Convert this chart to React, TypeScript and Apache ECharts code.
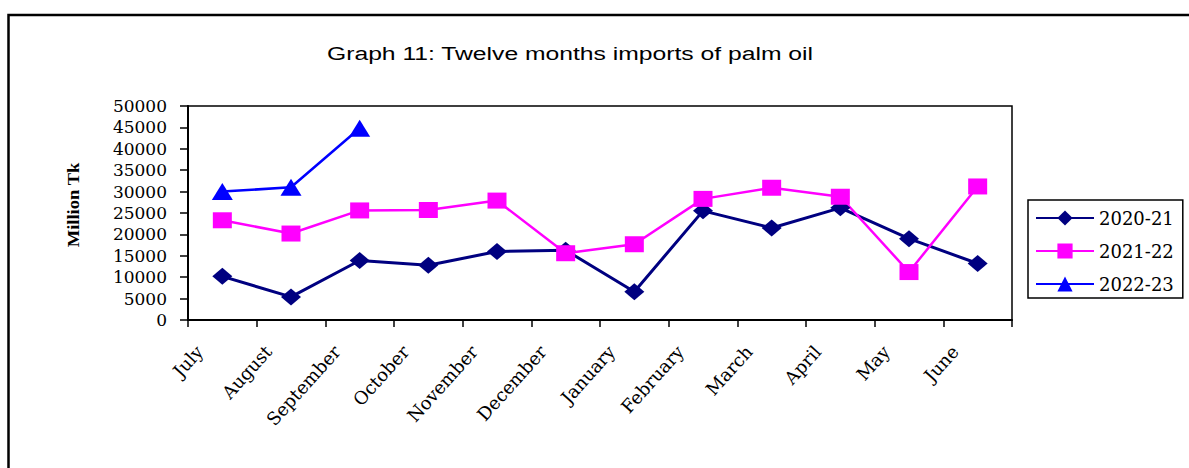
import React, { useEffect, useRef } from "react";
import * as echarts from "echarts";

const months = ["July", "August", "September", "October", "November", "December", "January", "February", "March", "April", "May", "June"];
const seriesNames = ["2020-21", "2021-22", "2022-23"];
const fy2021 = [10200, 5400, 13900, 12800, 16000, 16300, 6600, 25500, 21500, 26200, 19000, 13200];
const fy2122 = [23300, 20200, 25600, 25700, 27900, 15600, 17700, 28300, 30900, 28800, 11200, 31200];
const fy2223 = [30000, 31000, 44800];
const yMin = 0;
const yMax = 50000;
const yStep = 5000;
const titleText = "Graph 11: Twelve months imports of palm oil";
const yAxisName = "Million Tk";

const SERIF = '"DejaVu Serif", serif';

export default function App() {
  const ref = useRef<HTMLDivElement>(null);
  useEffect(() => {
    if (!ref.current) return;
    const chart = echarts.init(ref.current, undefined, { renderer: "svg" });
    chart.setOption({
      animation: false,
      backgroundColor: "#ffffff",
      graphic: [
        {
          type: "rect",
          silent: true,
          shape: { x: 8.5, y: 15, width: 1400, height: 700 },
          style: { fill: "none", stroke: "#000", lineWidth: 2.5 },
        },
        {
          type: "text",
          x: 570,
          y: 53.5,
          scaleX: 1.3,
          silent: true,
          style: {
            text: titleText,
            font: '19px "Liberation Sans", Arial, sans-serif',
            fill: "#000",
            align: "center",
            verticalAlign: "middle",
            textAlign: "center",
            textVerticalAlign: "middle",
          },
        },
        {
          type: "text",
          x: 74,
          y: 205,
          rotation: Math.PI / 2,
          scaleX: 1.16,
          silent: true,
          style: {
            text: yAxisName,
            font: 'bold 16px "Liberation Serif", "Times New Roman", serif',
            fill: "#000",
            align: "center",
            verticalAlign: "middle",
            textAlign: "center",
            textVerticalAlign: "middle",
          },
        },
      ],
      grid: {
        left: 188,
        right: 1189 - 1012,
        top: 106,
        bottom: 468 - 320,
        show: true,
        borderColor: "#000",
        borderWidth: 1.5,
        backgroundColor: "transparent",
      },
      legend: {
        orient: "vertical",
        left: 1028,
        top: 200,
        padding: [8, 9, 4, 7],
        itemWidth: 58,
        itemHeight: 19,
        itemGap: 13,
        borderColor: "#000",
        borderWidth: 1.5,
        backgroundColor: "#fff",
        textStyle: { fontFamily: SERIF, fontSize: 18, color: "#000", lineHeight: 20 },
        data: seriesNames,
      },
      xAxis: {
        type: "category",
        data: months,
        boundaryGap: true,
        axisLine: { lineStyle: { color: "#000", width: 2 } },
        axisTick: { show: true, length: 7, interval: 0, lineStyle: { color: "#000", width: 1.5 } },
        axisLabel: {
          interval: 0,
          rotate: 48,
          margin: 3,
          padding: [0, 34, 0, 0],
          fontFamily: SERIF,
          fontSize: 18,
          color: "#000",
        },
        splitLine: { show: false },
      },
      yAxis: {
        type: "value",
        min: yMin,
        max: yMax,
        interval: yStep,
        axisLine: { show: true, lineStyle: { color: "#000", width: 2 } },
        axisTick: { show: true, length: 8, lineStyle: { color: "#000", width: 1.5 } },
        axisLabel: {
          margin: 21,
          fontFamily: SERIF,
          fontSize: 17,
          color: "#000",
          formatter: (v: number) => String(v),
        },
        splitLine: { show: false },
      },
      series: [
        {
          name: seriesNames[0],
          type: "line",
          data: fy2021,
          symbol: "diamond",
          symbolSize: [20, 17],
          lineStyle: { color: "#000080", width: 3 },
          itemStyle: { color: "#000080" },
        },
        {
          name: seriesNames[1],
          type: "line",
          data: fy2122,
          symbol: "rect",
          symbolSize: [19, 16],
          lineStyle: { color: "#ff00ff", width: 2.5 },
          itemStyle: { color: "#ff00ff" },
        },
        {
          name: seriesNames[2],
          type: "line",
          data: fy2223,
          symbol: "triangle",
          symbolSize: [21, 17],
          lineStyle: { color: "#0000ff", width: 2.5 },
          itemStyle: { color: "#0000ff" },
        },
      ],
    });
    return () => chart.dispose();
  }, []);
  return (
    <div
      ref={ref}
      style={{ position: "absolute", left: 0, top: 0, width: 1189, height: 468, background: "#fff" }}
    />
  );
}
